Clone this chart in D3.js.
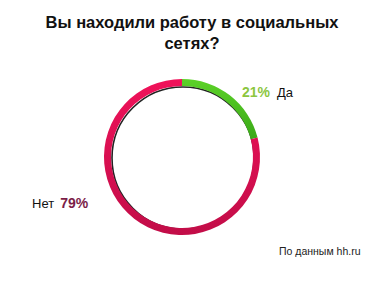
<!DOCTYPE html>
<html>
<head>
<meta charset="utf-8">
<script src="https://cdn.jsdelivr.net/npm/d3@7"></script>
<style>
  body { margin: 0; background: #fff; }
  svg { display: block; font-family: "Liberation Sans", Arial, sans-serif; }
</style>
</head>
<body>
<svg id="chart"></svg>
<script>
const titleLines = ["Вы находили работу в социальных", "сетях?"];
const categories = ["Да", "Нет"];
const values = [21, 79];
const valueColors = ["#8cc63f", "#7b1d48"];
const source = "По данным hh.ru";

const width = 386, height = 283;
const cx = 182, cy = 157, outerR = 78, ring = 7;

const svg = d3.select("#chart").attr("width", width).attr("height", height);

const defs = svg.append("defs");
const pinkGrad = defs.append("linearGradient").attr("id", "pink")
    .attr("x1", 0).attr("y1", 0).attr("x2", 0).attr("y2", 1);
pinkGrad.append("stop").attr("offset", "0%").attr("stop-color", "#f0125a");
pinkGrad.append("stop").attr("offset", "100%").attr("stop-color", "#c20d48");
const greenGrad = defs.append("linearGradient").attr("id", "green")
    .attr("x1", 0).attr("y1", 0).attr("x2", 0).attr("y2", 1);
greenGrad.append("stop").attr("offset", "0%").attr("stop-color", "#5cd228");
greenGrad.append("stop").attr("offset", "100%").attr("stop-color", "#3aa818");

svg.selectAll(".title")
    .data(titleLines)
    .join("text")
    .attr("class", "title")
    .attr("x", 192)
    .attr("y", (d, i) => 28 + i * 21)
    .attr("text-anchor", "middle")
    .attr("font-size", 16.5)
    .attr("font-weight", "bold")
    .attr("fill", "#111")
    .text(d => d);

const pie = d3.pie().sort(null).value(d => d)(values);
const arc = d3.arc().innerRadius(outerR - ring).outerRadius(outerR);

const g = svg.append("g").attr("transform", `translate(${cx},${cy})`);

// inner shadow line
g.append("circle")
    .attr("cx", 1).attr("cy", 1)
    .attr("r", outerR - ring)
    .attr("fill", "none")
    .attr("stroke", "#222")
    .attr("stroke-width", 1.6);

g.selectAll("path")
    .data(pie)
    .join("path")
    .attr("d", arc)
    .attr("fill", (d, i) => i === 0 ? "url(#green)" : "url(#pink)");

// labels
const yes = svg.append("text").attr("x", 242).attr("y", 97).attr("font-size", 14);
yes.append("tspan").attr("font-weight", "bold").attr("fill", valueColors[0]).text(values[0] + "%");
yes.append("tspan").attr("dx", 7).attr("fill", "#111").attr("font-size", 13).text(categories[0]);

const no = svg.append("text").attr("x", 32).attr("y", 208).attr("font-size", 14);
no.append("tspan").attr("fill", "#111").attr("font-size", 13).text(categories[1]);
no.append("tspan").attr("dx", 6).attr("font-weight", "bold").attr("fill", valueColors[1]).text(values[1] + "%");

svg.append("text")
    .attr("x", 279).attr("y", 255)
    .attr("font-size", 10.5)
    .attr("fill", "#222")
    .text(source);
</script>
</body>
</html>
